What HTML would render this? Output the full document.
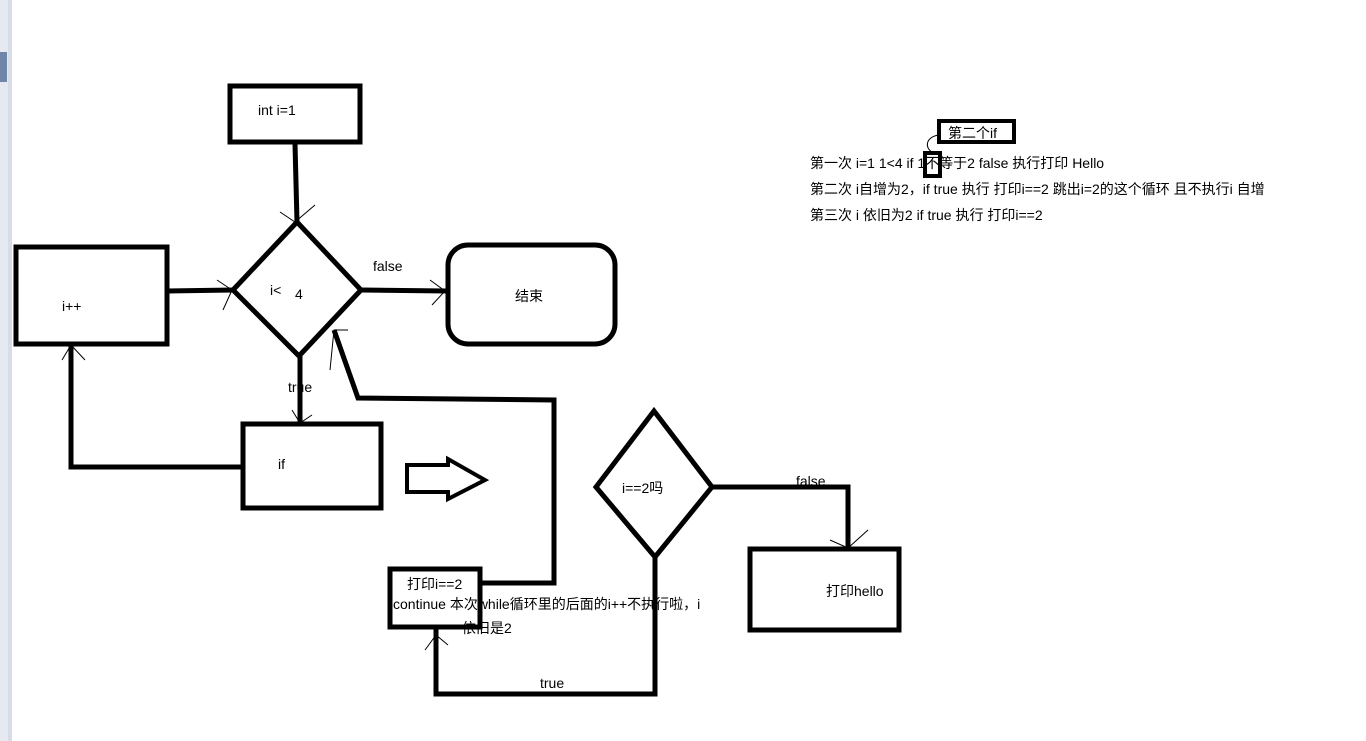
<!DOCTYPE html>
<html><head><meta charset="utf-8"><style>
html,body{margin:0;padding:0;background:#fff;width:1366px;height:741px;overflow:hidden}
svg{display:block}
text{font-family:"Liberation Sans","Noto Sans CJK SC",sans-serif;font-size:14px;fill:#000}
</style></head><body>
<svg width="1366" height="741" viewBox="0 0 1366 741">
<rect x="0" y="0" width="8" height="741" fill="#e6e9f0"/>
<rect x="0" y="52" width="7" height="30" fill="#6f86a8"/>
<rect x="8" y="0" width="4" height="741" fill="#d7dce8"/>
<g fill="none" stroke="#000" stroke-width="5" stroke-linejoin="miter">
<rect x="230" y="86" width="130" height="56"/>
<polyline points="295,144 297,222"/>
<polygon points="297,222 233,290 299,356 361,290"/>
<rect x="16" y="247" width="151" height="97"/>
<polyline points="167,291 233,290"/>
<polyline points="361,290 447,291"/>
<rect x="448" y="245" width="167" height="99" rx="20"/>
<polyline points="300,356 300,423"/>
<rect x="243" y="424" width="138" height="84"/>
<polyline points="243,467 71,467 71,345"/>
<polyline points="482,583 554,583 554,400 358,398 334,330"/>
<polygon points="407,465 448,465 448,459 485,480 448,499 448,492 407,492" stroke-width="4"/>
<polygon points="654,411 596,487 655,557 712,487"/>
<polyline points="712,487 848,487 848,548"/>
<rect x="750" y="549" width="149" height="81"/>
<rect x="390" y="569" width="90" height="58"/>
<polyline points="655,557 655,694 436,694 436,628"/>
<rect x="939" y="121" width="75" height="21" stroke-width="4"/>
<rect x="925" y="153" width="15" height="23" stroke-width="4"/>
</g>
<g fill="none" stroke="#000" stroke-width="1">
<path d="M280,212 L295,222 L315,205"/>
<path d="M217,280 L232,290 L223,310"/>
<path d="M62,360 L71,345 L85,360"/>
<path d="M330,370 L334,330 L348,330"/>
<path d="M312,415 L300,423 L292,410"/>
<path d="M430,280 L445,291 L432,305"/>
<path d="M830,540 L848,548 L868,530"/>
<path d="M425,650 L436,635 L448,645"/>
<path d="M938,135 C925,138 925,148 932,152"/>
</g>
<text x="258" y="115">int i=1</text>
<text x="270" y="295">i&lt;</text><text x="295" y="299">4</text>
<text x="62" y="311">i++</text>
<text x="373" y="271">false</text>
<text x="515" y="301">结束</text>
<text x="288" y="392">true</text>
<text x="278" y="469">if</text>
<text x="622" y="493">i==2吗</text>
<text x="796" y="486">false</text>
<text x="826" y="596">打印hello</text>
<text x="407" y="589">打印i==2</text>
<text x="393" y="609">continue 本次while循环里的后面的i++不执行啦，i</text>
<text x="462" y="633">依旧是2</text>
<text x="540" y="688">true</text>
<text x="948" y="138">第二个if</text>
<text x="810" y="168">第一次  i=1 1&lt;4  if 1不等于2 false  执行打印 Hello</text>
<text x="810" y="194">第二次 i自增为2，if  true 执行 打印i==2 跳出i=2的这个循环 且不执行i 自增</text>
<text x="810" y="220">第三次 i 依旧为2 if true   执行 打印i==2</text>
</svg>
</body></html>
